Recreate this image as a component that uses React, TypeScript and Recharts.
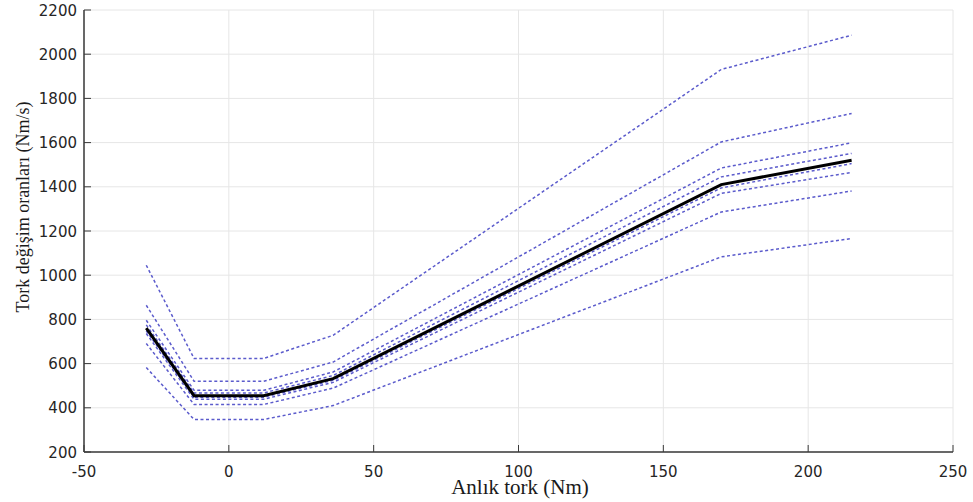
import { LineChart, Line, XAxis, YAxis, CartesianGrid } from 'recharts';

// torque breakpoints (Nm)
const torque = [-28.5, -12, 12, 36, 170, 215];

// mean rate curve (Nm/s)
const meanRate = [761, 455, 455, 532, 1410, 1520];

// spread curves, top to bottom
const band1 = [1045, 623, 623, 728, 1931, 2086];
const band2 = [864, 520, 520, 607, 1603, 1732];
const band3 = [796, 479, 479, 562, 1485, 1599];
const band4 = [775, 467, 467, 546, 1445, 1551];
const band5 = [748, 448, 448, 524, 1395, 1505];
const band6 = [736, 439, 439, 515, 1370, 1465];
const band7 = [691, 415, 415, 489, 1286, 1381];
const band8 = [582, 347, 347, 410, 1083, 1166];

const bands = [band1, band2, band3, band4, band5, band6, band7, band8];

const xTicks = [-50, 0, 50, 100, 150, 200, 250];
const yTicks = [200, 400, 600, 800, 1000, 1200, 1400, 1600, 1800, 2000, 2200];

const data = torque.map((x, i) => {
  const row: Record<string, number> = { x, mean: meanRate[i] };
  bands.forEach((b, k) => {
    row[`b${k + 1}`] = b[i];
  });
  return row;
});

const tickFont = { fontFamily: 'DejaVu Sans', fontSize: 15, fill: '#262626' };
const axisColor = '#3a3a3a';

function XTick(props: any) {
  const { x, y, payload } = props;
  return (
    <g>
      <line x1={x} x2={x} y1={y} y2={y - 7} stroke={axisColor} strokeWidth={1} />
      <text x={x} y={y + 25} textAnchor="middle" {...tickFont}>
        {payload.value}
      </text>
    </g>
  );
}

function YTick(props: any) {
  const { x, y, payload } = props;
  return (
    <g>
      <line x1={x} x2={x + 7} y1={y} y2={y} stroke={axisColor} strokeWidth={1} />
      <text x={x - 7} y={y + 5.5} textAnchor="end" {...tickFont}>
        {payload.value}
      </text>
    </g>
  );
}

export default function App() {
  return (
    <div style={{ position: 'absolute', left: 0, top: 0, width: 973, height: 502, background: '#fff' }}>
      <LineChart width={973} height={502} data={data} margin={{ top: 10, right: 20, bottom: 20, left: 24 }}>
        <CartesianGrid stroke="#e6e6e6" strokeWidth={1} />
        <XAxis
          dataKey="x"
          type="number"
          domain={[-50, 250]}
          ticks={xTicks}
          interval={0}
          height={30}
          tickSize={0}
          tickMargin={0}
          tickLine={false}
          axisLine={{ stroke: axisColor, strokeWidth: 1.5 }}
          tick={<XTick />}
          label={() => (
            <text x={520} y={494} textAnchor="middle" fontFamily="Liberation Serif" fontSize={21} fill="#1a1a1a">
              Anlık tork (Nm)
            </text>
          )}
        />
        <YAxis
          type="number"
          domain={[200, 2200]}
          ticks={yTicks}
          interval={0}
          width={60}
          tickSize={0}
          tickMargin={0}
          tickLine={false}
          axisLine={{ stroke: axisColor, strokeWidth: 1.5 }}
          tick={<YTick />}
          label={() => (
            <text
              x={29}
              y={207}
              textAnchor="middle"
              fontFamily="Liberation Serif"
              fontSize={18}
              fill="#1a1a1a"
              transform="rotate(-90 29 207)"
            >
              Tork değişim oranları (Nm/s)
            </text>
          )}
        />
        {bands.map((_, k) => (
          <Line
            key={k}
            type="linear"
            dataKey={`b${k + 1}`}
            stroke="#5b5bcc"
            strokeWidth={1.5}
            strokeDasharray="3 2.5"
            dot={false}
            isAnimationActive={false}
          />
        ))}
        <Line
          type="linear"
          dataKey="mean"
          stroke="#000"
          strokeWidth={3}
          dot={false}
          isAnimationActive={false}
        />
      </LineChart>
    </div>
  );
}
